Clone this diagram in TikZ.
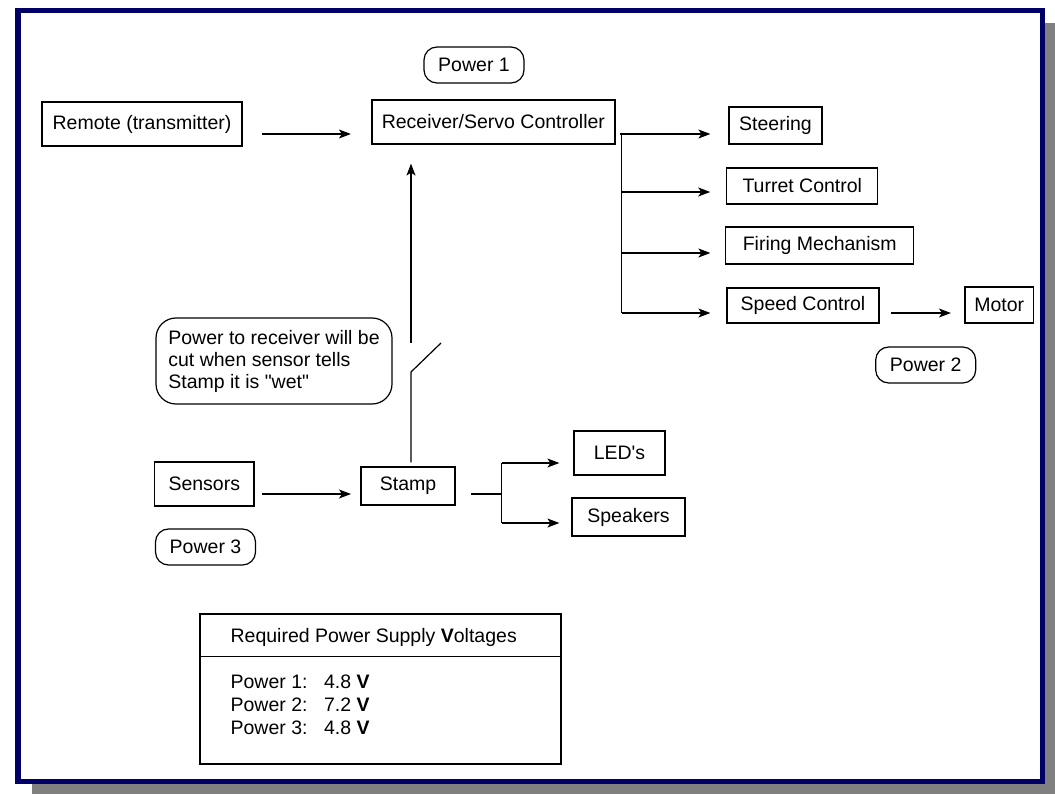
\documentclass[tikz,border=0pt]{standalone}
\usepackage{fontspec}
\setmainfont{Liberation Sans}
\usetikzlibrary{positioning}
\usetikzlibrary{calc}
\usetikzlibrary{arrows.meta}
\definecolor{framenavy}{RGB}{0,0,102}
\definecolor{shadowgray}{RGB}{128,128,128}

\begin{document}
\begin{tikzpicture}[x=1pt,y=-1pt,
    font=\fontsize{19.5}{22}\selectfont,
    block/.style={draw, line width=1.2pt, inner sep=0pt},
    powertag/.style={draw, line width=1.2pt, rounded corners=13pt, inner sep=0pt,
        minimum width=100pt, minimum height=36pt},
    note/.style={draw, line width=1.2pt, rounded corners=20pt, align=left, inner sep=0pt,
        minimum width=236pt, minimum height=86pt},
    wire/.style={line width=1.2pt},
    feed/.style={wire, -{Stealth[length=12pt,width=9pt,inset=3pt]}}]
  % page, shadow and frame
  \fill[white] (0,0) rectangle (1055,794);
  \useasboundingbox (0,0) rectangle (1055,794);
  \fill[shadowgray] (32,23) rectangle (1055,794);
  \filldraw[fill=white, draw=framenavy, line width=5.5pt] (17.75,10.75) rectangle (1042.25,781.25);

  % receiver side
  \node[block, minimum width=200pt, minimum height=44pt] (remote) at (142,124) {Remote (transmitter)};
  \node[block, minimum width=243pt, minimum height=44pt] (recv) at (493.4,122) {Receiver/Servo Controller};
  \node[powertag] (pone) at (474,65) {Power 1};
  \node[block, minimum width=93pt, minimum height=37pt] (steer) at (775.5,125.5) {Steering};
  \node[block, minimum width=151pt, minimum height=36pt] (turret) at (802.3,186) {Turret Control};
  \node[block, minimum width=188pt, minimum height=37pt] (firing) at (819.7,245.5) {Firing Mechanism};
  \node[block, minimum width=152pt, minimum height=35pt] (speed) at (803,305.5) {Speed Control};
  \node[block, minimum width=68.5pt, minimum height=36pt] (motor) at (999.2,305) {Motor};
  \node[powertag] (ptwo) at (925.7,365) {Power 2};

  % stamp side
  \node[note] (warn) at (274,361) {Power to receiver will be\\cut when sensor tells\\Stamp it is \textquotedbl wet\textquotedbl};
  \node[block, minimum width=99.5pt, minimum height=44pt] (sensors) at (204.3,484) {Sensors};
  \node[block, minimum width=94pt, minimum height=38pt] (stamp) at (408,486) {Stamp};
  \node[block, minimum width=91pt, minimum height=44pt] (leds) at (619.5,453) {LED\textquotesingle s};
  \node[block, minimum width=113pt, minimum height=38pt] (speakers) at (628.5,517) {Speakers};
  \node[powertag] (pthree) at (205.5,547) {Power 3};

  % voltage table
  \node[block, minimum width=361pt, minimum height=150pt] (supply) at (380.5,689) {};
  \draw[wire] ($(supply.north west)+(0,43)$) -- ($(supply.north east)+(0,43)$);
  \node[anchor=base west, inner sep=0pt] (title) at ($(supply.north west)+(31,29)$) {Required Power Supply \textbf{V}oltages};
  \foreach \i/\v in {1/4.8,2/7.2,3/4.8} {
    \node[anchor=base west, inner sep=0pt] (pl\i) at ($(supply.north west)+(31,52+23*\i)$) {Power \i:};
    \node[anchor=base west, inner sep=0pt] (pv\i) at ($(supply.north west)+(124.5,52+23*\i)$) {\v\ \textbf{V}};
  }

  % remote to receiver
  \coordinate (remoteout) at ($(remote.east)+(0,10)$);
  \draw[feed, shorten <=19pt, shorten >=20.4pt] (remoteout) -- (remoteout -| recv.west);

  % receiver outputs
  \coordinate (fork) at ($(recv.east)+(6,12)$);
  \foreach \n/\d/\s in {steer/8.5/18, turret/6/16, firing/7.5/14.7, speed/7.5/16} {
    \coordinate (\n-in) at ($(\n.west)+(0,\d)$);
    \draw[feed, shorten >=\s pt] (fork |- \n-in) -- (\n-in);
  }
  \draw[wire, shorten <=4pt] (recv.east |- fork) -- (fork) -- (fork |- speed-in);

  % speed control to motor
  \coordinate (speedout) at ($(speed.east)+(0,7.5)$);
  \draw[feed, shorten <=11pt, shorten >=13.4pt] (speedout) -- (speedout -| motor.west);

  % sensors to stamp
  \coordinate (sensout) at ($(sensors.east)+(0,10)$);
  \draw[feed, shorten <=7pt, shorten >=9.4pt] (sensout) -- (sensout -| stamp.west);

  % stamp outputs
  \coordinate (split) at ($(stamp.east)+(46,8)$);
  \coordinate (leds-in) at ($(leds.west)+(0,10)$);
  \coordinate (spk-in) at ($(speakers.west)+(0,6)$);
  \draw[wire, shorten <=15.6pt] (stamp.east |- split) -- (split);
  \draw[wire] (split |- leds-in) -- (split |- spk-in);
  \draw[feed, shorten >=14pt] (split |- leds-in) -- (leds-in);
  \draw[feed, shorten >=12pt] (split |- spk-in) -- (spk-in);

  % power switch
  \coordinate (swpivot) at (411,372);
  \coordinate (swtop) at (411,343);
  \draw[wire, shorten <=4pt] (stamp.north -| swpivot) -- (swpivot) -- ++(30,-29);
  \draw[feed, shorten >=19pt] (swtop) -- (swtop |- recv.south);
\end{tikzpicture}
\end{document}
